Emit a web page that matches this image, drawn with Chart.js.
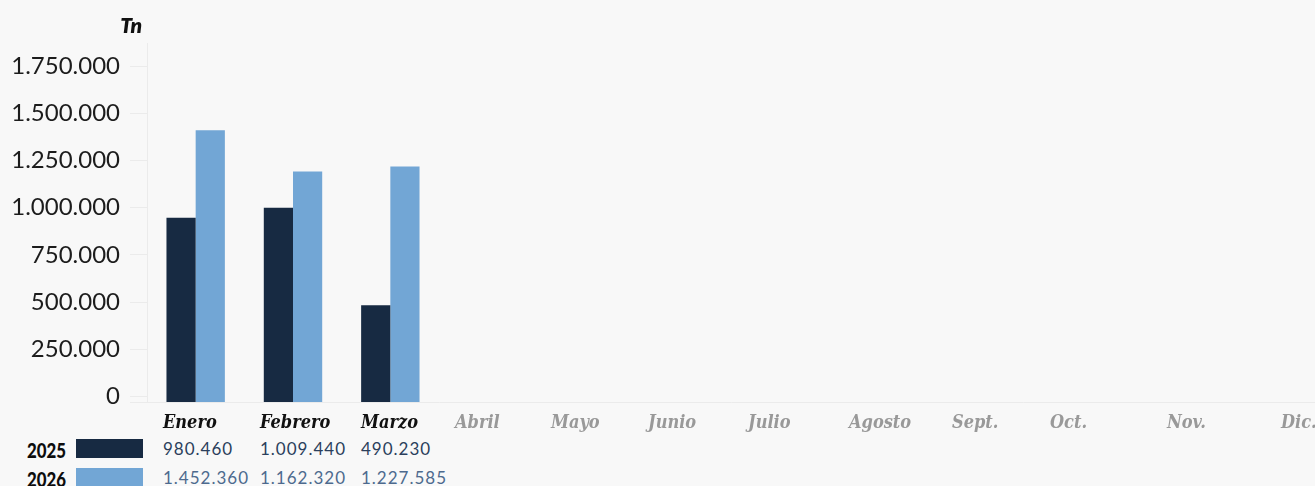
<!DOCTYPE html>
<html lang="es">
<head>
<meta charset="utf-8">
<title>Toneladas por mes</title>
<script src="https://cdn.jsdelivr.net/npm/chart.js@4.4.1/dist/chart.umd.min.js"></script>
<style>
    html, body {
        margin: 0;
        padding: 0;
        width: 1315px;
        height: 486px;
        overflow: hidden;
        background: #f8f8f8;
    }
    #wrap { position: relative; width: 1315px; height: 486px; }
    #chartBox { position: absolute; left: 0; top: 0; width: 1315px; height: 427px; }
    #unidad {
        position: absolute;
        right: 1173px;
        top: 14px;
        font: italic 800 21px/21px Lato, sans-serif;
        color: #111;
    }
    .mes {
        position: absolute;
        top: 413px;
        font: italic 700 18px/18px "DejaVu Serif Condensed", "DejaVu Serif", serif;
        white-space: nowrap;
    }
    .valor {
        position: absolute;
        font: 400 17px/17px Lato, sans-serif;
        letter-spacing: 1px;
        white-space: nowrap;
    }
    .anio {
        position: absolute;
        left: 27px;
        font: 900 21px/21px Lato, sans-serif;
        color: #0d0d0d;
        transform: scaleX(0.8);
        transform-origin: left center;
    }
    .caja { position: absolute; left: 76px; width: 67px; height: 19px; }
</style>
</head>
<body>
<div id="wrap">
    <div id="chartBox"><canvas id="toneladas"></canvas></div>
    <div id="unidad">Tn</div>
    <div id="tabla"></div>
</div>
<script>
// categorias y valores
const meses = ['Enero', 'Febrero', 'Marzo', 'Abril', 'Mayo', 'Junio', 'Julio', 'Agosto', 'Sept.', 'Oct.', 'Nov.', 'Dic.'];
// altura de las barras, leida contra el eje
const barras2025 = [947000, 1000000, 484000];
const barras2026 = [1410000, 1191000, 1218000];
// cifras de la tabla
const tabla2025 = [980460, 1009440, 490230];
const tabla2026 = [1452360, 1162320, 1227585];
const marcasY = [0, 250000, 500000, 750000, 1000000, 1250000, 1500000, 1750000];

const yMin = -32000;
const yMax = 1872000;

// columnas de la tabla (px desde la izquierda)
const columnasX = [163, 260, 361, 455, 551, 648, 748, 849, 952, 1050, 1167, 1281];

function puntos(n) {
    return String(n).replace(/\B(?=(\d{3})+(?!\d))/g, '.');
}

document.addEventListener('DOMContentLoaded', function() {
    const ctx = document.getElementById('toneladas').getContext('2d');

    new Chart(ctx, {
        type: 'bar',
        data: {
            labels: meses,
            datasets: [
                {
                    label: '2025',
                    data: barras2025,
                    backgroundColor: '#172a42',
                    base: yMin,
                    categoryPercentage: 0.6,
                    barPercentage: 1.0
                },
                {
                    label: '2026',
                    data: barras2026,
                    backgroundColor: '#72a6d5',
                    base: yMin,
                    categoryPercentage: 0.6,
                    barPercentage: 1.0
                }
            ]
        },
        options: {
            responsive: true,
            maintainAspectRatio: false,
            animation: false,
            layout: { padding: { top: 43, right: 0, bottom: 0, left: 0 } },
            plugins: {
                legend: { display: false },
                tooltip: { enabled: false }
            },
            scales: {
                x: {
                    ticks: { display: false },
                    grid: { display: false, drawTicks: false },
                    border: { display: true, color: '#ebebeb', width: 1 },
                    afterFit: function(scale) { scale.height = 3; }
                },
                y: {
                    min: yMin,
                    max: yMax,
                    afterBuildTicks: function(scale) {
                        scale.ticks = [{ value: yMin }].concat(marcasY.map(v => ({ value: v })));
                    },
                    afterFit: function(scale) { scale.width = 147; },
                    ticks: {
                        padding: 10,
                        color: '#1c1c1c',
                        font: { family: 'Lato', size: 24 },
                        callback: function(value) {
                            return value < 0 ? '' : puntos(value);
                        }
                    },
                    grid: {
                        drawOnChartArea: false,
                        drawTicks: true,
                        tickLength: 17,
                        color: '#ebebeb'
                    },
                    border: { display: true, color: '#ebebeb', width: 1 }
                }
            }
        }
    });

    // tabla bajo el grafico
    const tabla = document.getElementById('tabla');
    meses.forEach(function(mes, i) {
        const el = document.createElement('div');
        el.className = 'mes';
        el.textContent = mes;
        el.style.left = columnasX[i] + 'px';
        el.style.color = i < tabla2025.length ? '#111' : '#999';
        tabla.appendChild(el);
    });

    const filas = [
        { anio: '2025', color: '#172a42', texto: '#2b3f5c', valores: tabla2025, y: 440 },
        { anio: '2026', color: '#72a6d5', texto: '#4d6a8e', valores: tabla2026, y: 469 }
    ];
    filas.forEach(function(f) {
        const a = document.createElement('div');
        a.className = 'anio';
        a.textContent = f.anio;
        a.style.top = (f.y - 1) + 'px';
        tabla.appendChild(a);

        const c = document.createElement('div');
        c.className = 'caja';
        c.style.top = (f.y - 1) + 'px';
        c.style.background = f.color;
        tabla.appendChild(c);

        f.valores.forEach(function(v, i) {
            const el = document.createElement('div');
            el.className = 'valor';
            el.textContent = puntos(v);
            el.style.left = columnasX[i] + 'px';
            el.style.top = f.y + 'px';
            el.style.color = f.texto;
            tabla.appendChild(el);
        });
    });
});
</script>
</body>
</html>
